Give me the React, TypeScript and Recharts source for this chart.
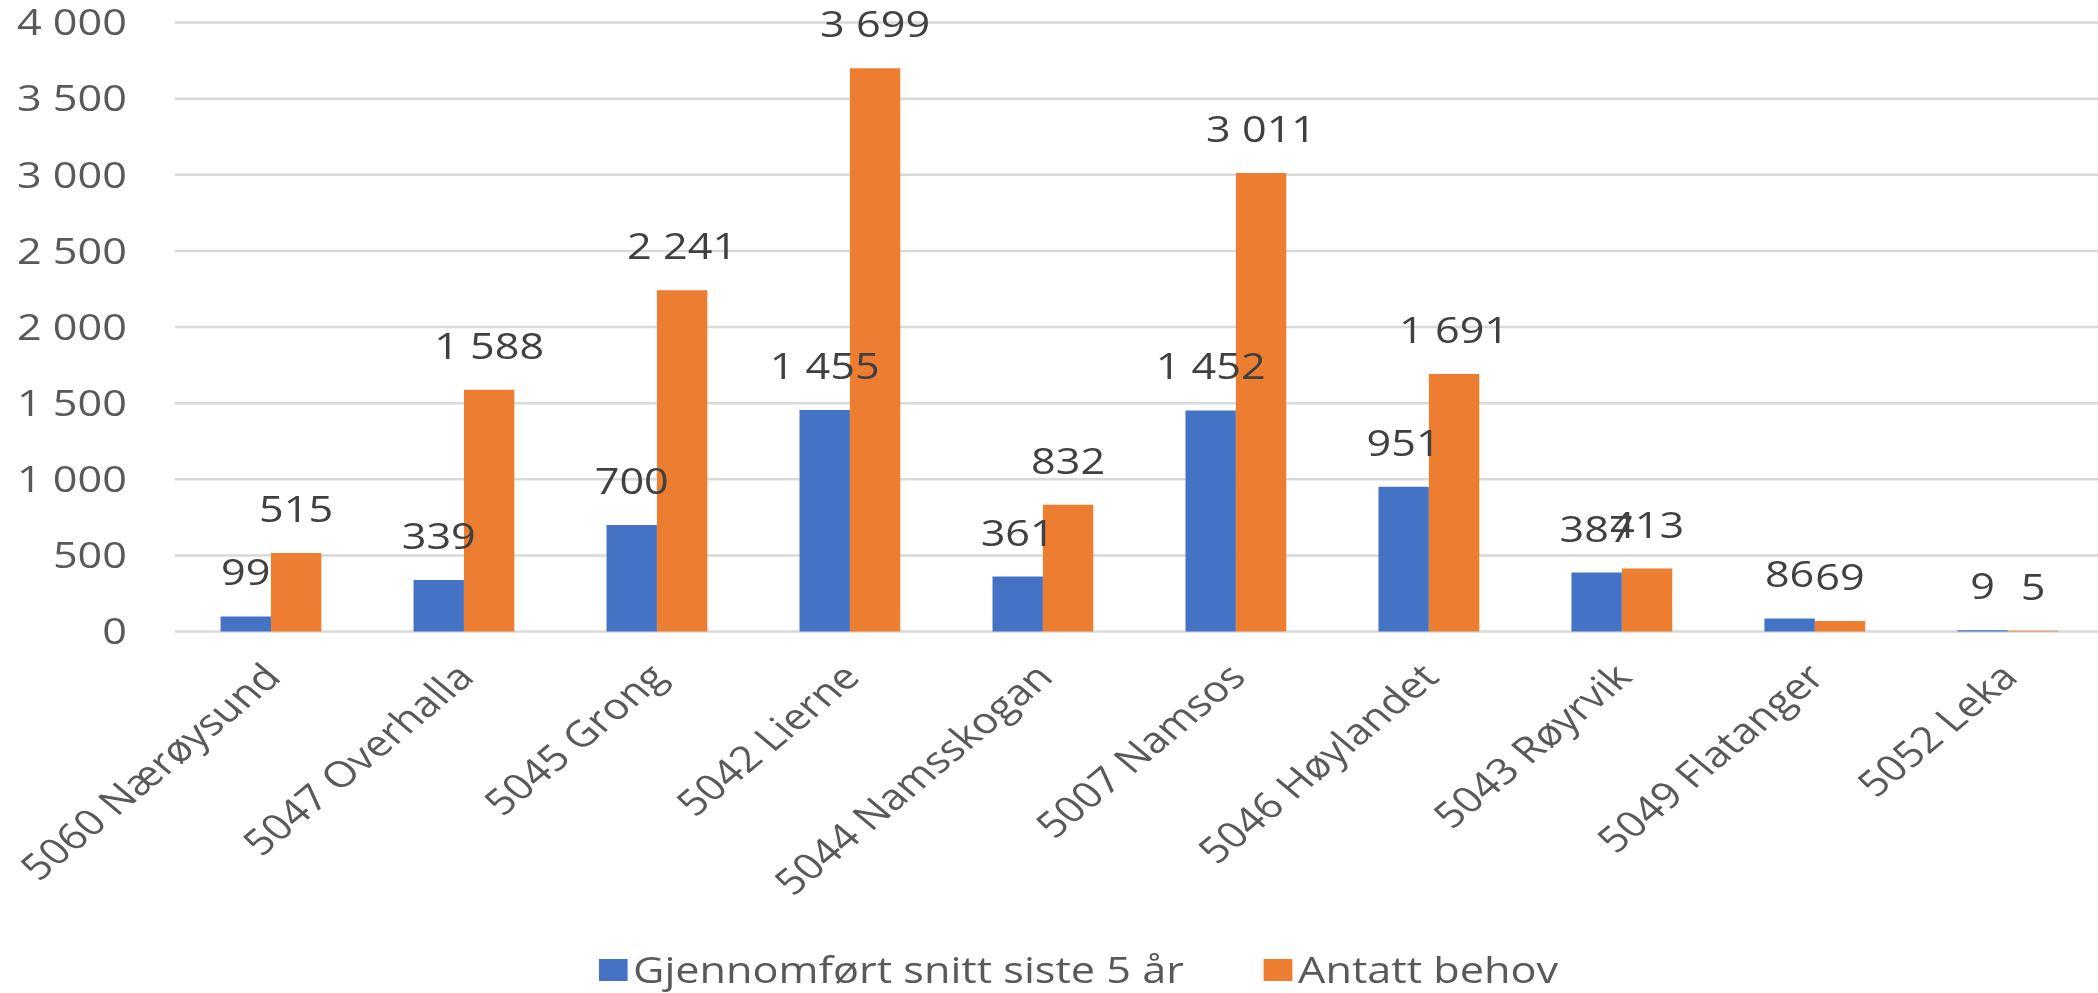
import React from 'react';
import { BarChart, Bar, XAxis, YAxis, CartesianGrid, Legend, LabelList } from 'recharts';

const categories = [
  '5060 Nærøysund',
  '5047 Overhalla',
  '5045 Grong',
  '5042 Lierne',
  '5044 Namsskogan',
  '5007 Namsos',
  '5046 Høylandet',
  '5043 Røyrvik',
  '5049 Flatanger',
  '5052 Leka',
];
const gjennomfort = [99, 339, 700, 1455, 361, 1452, 951, 387, 86, 9];
const antattBehov = [515, 1588, 2241, 3699, 832, 3011, 1691, 413, 69, 5];
const yTicks = [0, 500, 1000, 1500, 2000, 2500, 3000, 3500, 4000];
const seriesNames = ['Gjennomført snitt siste 5 år', 'Antatt behov'];

const data = categories.map((name, i) => ({
  name,
  gjennomfort: gjennomfort[i],
  antattBehov: antattBehov[i],
}));

const fmt = (v: any) => {
  const n = Number(v);
  const s = String(Math.round(n));
  return s.replace(/\B(?=(\d{3})+(?!\d))/g, '\u00a0');
};

const FONT = "'Open Sans', sans-serif";

const XTick = (props: any) => {
  const { x, y, payload } = props;
  return (
    <g transform={`translate(${x},${y + 38})`}>
      <text
        x={0}
        y={0}
        textAnchor="end"
        dominantBaseline="central"
        transform="rotate(-45)"
        fill="#595959"
        fontSize={36}
        fontFamily={FONT}
      >
        {payload.value}
      </text>
    </g>
  );
};

const renderLegend = (props: any) => {
  const payload = [...(props.payload || [])].sort(
    (a: any, b: any) => seriesNames.indexOf(a.value) - seriesNames.indexOf(b.value)
  );
  return (
    <div
      style={{
        display: 'flex',
        alignItems: 'center',
        fontFamily: FONT,
        fontSize: 36,
        lineHeight: '36px',
        color: '#595959',
        whiteSpace: 'nowrap',
      }}
    >
      {payload.map((p: any, i: number) => (
        <div
          key={i}
          style={{ display: 'flex', alignItems: 'center', marginRight: i === 0 ? 66.7 : 0 }}
        >
          <span
            style={{ display: 'inline-block', width: 23.5, height: 22, background: p.color, marginRight: 5 }}
          />
          <span>{p.value}</span>
        </div>
      ))}
    </div>
  );
};

export default function App() {
  return (
    <div
      style={{
        position: 'absolute',
        left: 0,
        top: 0,
        width: 2098,
        height: 993,
        overflow: 'hidden',
        background: '#ffffff',
        fontFamily: FONT,
      }}
    >
      <div style={{ width: 1754, height: 993, transform: 'scaleX(1.2)', transformOrigin: '0 0' }}>
        <BarChart
          width={1754}
          height={993}
          data={data}
          margin={{ top: 22.5, right: 0, bottom: 5, left: 0 }}
          barGap={0}
          barSize={42}
        >
          <CartesianGrid horizontal vertical={false} stroke="#d9d9d9" strokeWidth={2.5} />
          <XAxis
            dataKey="name"
            interval={0}
            axisLine={false}
            tickLine={false}
            tickSize={0}
            tickMargin={0}
            height={320.5}
            tick={<XTick />}
          />
          <YAxis
            domain={[0, 4000]}
            ticks={yTicks}
            axisLine={false}
            tickLine={false}
            tickSize={0}
            tickMargin={40}
            width={145.8}
            tickFormatter={fmt}
            tick={{ fill: '#595959', fontSize: 36, fontFamily: FONT }}
          />
          <Legend
            verticalAlign="bottom"
            content={renderLegend}
            wrapperStyle={{ left: 499 }}
          />
          <Bar dataKey="gjennomfort" name={seriesNames[0]} fill="#4472C4" isAnimationActive={false}>
            <LabelList
              dataKey="gjennomfort"
              position="top"
              offset={31}
              formatter={fmt}
              fill="#404040"
              fontSize={36}
              fontFamily={FONT}
            />
          </Bar>
          <Bar dataKey="antattBehov" name={seriesNames[1]} fill="#ED7D31" isAnimationActive={false}>
            <LabelList
              dataKey="antattBehov"
              position="top"
              offset={31}
              formatter={fmt}
              fill="#404040"
              fontSize={36}
              fontFamily={FONT}
            />
          </Bar>
        </BarChart>
      </div>
    </div>
  );
}
